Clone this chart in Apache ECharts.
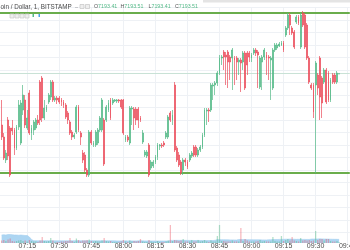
<!DOCTYPE html>
<html><head><meta charset="utf-8">
<script src="https://cdn.jsdelivr.net/npm/echarts@6/dist/echarts.min.js"></script>
<style>html,body{margin:0;padding:0;background:#fff;overflow:hidden}#c{width:350px;height:250px}</style>
</head><body><div id="c"></div>
<script>
// ---- axis categories (1-minute bars) ----
const firstTime = '07:02', lastTime = '09:46';
const categories = [];
(function(){const a=firstTime.split(':'),b=lastTime.split(':');for(let m=+a[0]*60+ +a[1];m<=+b[0]*60+ +b[1];m++){categories.push(String(Math.floor(m/60)).padStart(2,'0')+':'+String(m%60).padStart(2,'0'));}})();
const firstCandle = '07:03';
const tickLabels = ['07:15','07:30','07:45','08:00','08:15','08:30','08:45','09:00','09:15','09:30','09:45'];
const titleText = 'oin / Dollar, 1, BITSTAMP';

// ---- OHLC (USD) ----
const opens = [7173,7168.2,7159,7175,7171.8,7171.8,7171,7163.8,7172.2,7165.8,
7179,7183,7171.8,7185.8,7169.8,7171,7171.8,7175,7190.2,7191.8,
7175.8,7179,7182.2,7184.2,7190.2,7183,7183.8,7183.8,7183,7182.2,
7181,7177.8,7174.2,7170.2,7168.2,7170.2,7180.2,7169.8,7161.8,7161,
7155,7153,7170.2,7165,7165,7165.8,7171,7171,7175,7175,
7179,7183,7181.8,7182.6,7182.6,7183,7183,7183,7167,7168.2,
7165.8,7179.4,7179.4,7179.4,7179.4,7175.8,7166.2,7161,7160.6,7165,
7155.8,7156.6,7158.2,7160.2,7164.6,7165,7165.8,7168.2,7168.2,7177.8,
7175,7189,7163.8,7161,7158.2,7155,7159,7158.2,7159,7160.6,
7164.2,7164.2,7161,7163,7164.2,7169,7178.6,7179,7179,7188.6,
7189,7189.8,7193.8,7199.8,7202.2,7201,7202.2,7200.2,7199.8,7199.8,
7199.8,7198.2,7199,7198.2,7201.8,7201.8,7201.8,7199.8,7201.8,7203,
7202.2,7188.2,7198.2,7200.2,7201,7200.2,7199,7187.8,7203,7203.8,
7204.6,7205,7205.8,7209,7211.8,7217,7211.8,7210.2,7214.2,7216.2,
7204.2,7217.8,7217,7213,7199.8,7189,7189,7189,7193,7199.8,
7191.8,7190.2,7195,7193.8,7183,7193,7193,7190.2,7193.41];
const closes = [7168.2,7159.8,7161.8,7160.6,7153,7170.6,7163.8,7172.2,7181,7181.8,
7185,7173,7175.8,7169.8,7171.8,7174.2,7175,7173.8,7175,7175.8,
7179.8,7180.2,7185,7190.2,7183,7183.8,7183,7182.2,7182.2,7181,
7176.2,7175,7169.8,7168.2,7169,7180.2,7171,7168.2,7159,7155,
7153,7170.2,7165.8,7165.8,7170.2,7171,7175.8,7183,7157.4,7180.2,
7181.8,7175.8,7183,7183,7183,7182.6,7180.2,7169.8,7168.2,7167,
7179.8,7179.8,7175.8,7175,7175,7175,7169.8,7162.2,7162.2,7153,
7158.2,7158.2,7160.2,7165,7165,7164.6,7165,7169.8,7176.2,7175,
7177,7163,7159,7157,7153.8,7159,7158.2,7156.2,7161,7161.8,
7161,7161,7163,7164.2,7169,7179,7179,7178.6,7189,7189,
7189.8,7193.8,7199.8,7200.2,7200.2,7200.2,7198.2,7198.2,7203,7199,
7198.2,7199,7197.8,7201.8,7187.8,7197,7200.2,7201,7203,7201.8,
7201,7199.8,7200.2,7203,7199.8,7199.8,7199.8,7203,7205,7205,
7205.4,7205.8,7203,7211.8,7217,7213,7209.8,7204.2,7216.2,7213.8,
7217,7213,7204.2,7199.8,7190.2,7187.8,7178.2,7197.8,7187.8,7184.2,
7181.8,7195,7182.2,7183,7191,7190.2,7190.2,7193.8,7193.51];
const lows = [7167,7159,7157.8,7159,7152.2,7169,7161,7163,7171,7165,
7177,7171.8,7171,7169,7167,7169,7171,7173,7173,7174.2,
7175,7178.2,7181.4,7183,7182.2,7182.2,7181.4,7181.4,7180.6,7179.8,
7175.4,7173.4,7169,7167,7167.4,7169.4,7170.2,7165,7157.8,7154.2,
7152.2,7152.2,7165,7164.2,7164.2,7165,7170.2,7170.2,7156.6,7174.2,
7178.2,7175,7181,7182.2,7181.8,7181.8,7179.4,7169,7166.2,7166.2,
7165,7173,7171,7173,7171.8,7174.2,7165.4,7160.2,7159.8,7152.2,
7155,7155.8,7157.4,7159,7163,7163.8,7164.2,7167.4,7167.4,7174.2,
7173,7162.2,7158.2,7156.2,7153,7153,7156.6,7155.4,7158.2,7159.8,
7160.2,7160.2,7160.2,7162.2,7163.4,7168.2,7173,7174.2,7178.2,7183,
7185,7188.6,7193,7197,7195,7189,7187.8,7191,7187,7189,
7191,7193,7186.2,7195,7187,7193,7198.2,7198.2,7201,7200.6,
7187.8,7187.4,7187,7199,7193,7191,7183,7187,7202.2,7203,
7204.2,7204.6,7202.2,7208.2,7211,7209,7209,7203.4,7213.4,7213,
7203.4,7212.2,7203.4,7199,7189.4,7187,7175.8,7153.8,7185,7175,
7175.8,7189.4,7181.4,7182.2,7182.2,7189.4,7189.4,7189.4,7193.41];
const highs = [7183,7169.8,7163,7176.2,7172.6,7175,7171.8,7173,7183,7183,
7189,7185,7179,7187,7173,7175,7175.8,7177,7191,7192.6,
7183,7181,7185.8,7191,7191,7184.6,7184.6,7184.6,7183.8,7183,
7181.8,7178.6,7175,7171,7169.8,7181,7181,7170.6,7163,7162.2,
7155.8,7171,7171,7166.6,7171,7171.8,7176.6,7183.8,7175.8,7181,
7183,7183.8,7183.8,7183.4,7183.4,7183.4,7183.4,7183.4,7169,7169,
7180.6,7180.6,7180.2,7180.2,7180.2,7176.6,7171,7163,7163,7165.8,
7159,7159,7161,7165.8,7165.4,7165.8,7166.6,7170.6,7177,7178.6,
7179,7190.2,7164.6,7162.2,7159,7159.8,7159.8,7159,7161.8,7162.6,
7165,7165,7163.8,7165,7169.8,7179.8,7179.8,7179.8,7189.8,7189.8,
7190.6,7194.6,7201,7201,7203,7202.2,7203,7201,7203.8,7200.6,
7200.6,7199.8,7199.8,7202.6,7202.6,7202.6,7202.6,7201.8,7203.8,7203.8,
7203,7200.6,7201,7203.8,7202.2,7201,7200.6,7203.8,7205.8,7205.8,
7206.2,7206.6,7206.6,7212.6,7217.8,7217.8,7212.6,7211,7217,7217,
7217.8,7218.6,7217.8,7213.8,7200.6,7189.8,7189.8,7198.6,7193.8,7200.6,
7192.6,7195.8,7195.8,7194.6,7191.8,7193.8,7193.8,7194.6,7193.51];

// ---- volume (BTC) and its moving average ----
const volumes = [5,6,4,7,9,4,3,4,5,6,
4,5,3,6,4,3,3,2,5,12,
4,3,4,10,5,2,2,2,3,3,
4,4,10,4,2,9,6,3,5,5,
6,7,4,3,4,3,3,5,10,4,
3,4,2,2,2,2,3,6,3,2,
5,3,4,3,4,8,3,2,2,6,
3,2,2,4,2,2,2,3,5,36,
4,6,5,4,5,8,3,3,3,6,
3,3,6,3,4,6,3,2,5,3,
3,14,36,4,4,3,3,3,5,3,
3,3,30,4,8,5,3,3,3,3,
4,6,3,4,3,3,3,12,4,3,
3,14,4,6,8,5,12,5,4,3,
10,5,6,5,6,4,5,24,6,8,
8,5,8,8,4,3,3,4,2];
const volumeMA = [16,16.5,16,17,17,16.5,16,16,15.5,16,
15.5,15,15,12,7,4.6,4.5,4.5,4.4,4.6,
4.7,4.6,4.5,4.6,4.6,4.5,4.4,4.4,4.3,4.3,
4.4,4.5,4.6,4.5,4.4,4.6,4.6,4.5,4.5,4.6,
4.6,4.7,4.7,4.6,4.5,4.5,4.4,4.5,4.7,4.6,
4.5,4.5,4.4,4.3,4.2,4.2,4.2,4.3,4.3,4.2,
4.3,4.2,4.2,4.2,4.3,4.4,4.3,4.2,4.2,4.3,
4.2,4.2,4.1,4.1,4.1,4.1,4.0,4.0,4.1,5.2,
5.2,5.3,5.3,5.3,5.3,5.4,5.3,5.2,5.1,5.1,
5.0,5.0,5.1,5.0,5.0,5.0,4.9,4.9,5.0,4.9,
5.5,6.8,6.7,6.6,6.5,6.4,6.3,6.2,6.2,6.1,
6.0,7.0,6.9,6.9,6.8,6.7,6.6,6.5,6.4,6.3,
6.3,6.3,6.2,6.2,6.1,6.5,6.5,6.9,6.9,6.9,
7.2,7.2,7.4,7.6,7.6,7.8,7.6,7.5,7.3,7.4,
7.3,7.2,7.2,7.1,7.1,7.9,8.0,8.0,8.2,8.3,
8.1,8.0,7.9,7.8,7.6,7.5,7.4,7.3,7.2];

// ---- horizontal support / resistance levels ----
const levelLines = [7217.9, 7153.9];

const UP = '#53b987', DN = '#eb4d5c';
const off = categories.indexOf(firstCandle);
const idx = k => { const i = k - off; return (i >= 0 && i < opens.length) ? i : -1; };
const candleData = categories.map((t,k)=>{const i=idx(k);return i<0?'-':[opens[i],closes[i],lows[i],highs[i]];});
const volData = categories.map((t,k)=>{const i=idx(k);return i<0?'-':{value:volumes[i],itemStyle:{color:closes[i]>=opens[i]?'rgba(83,185,135,0.45)':'rgba(235,77,92,0.4)'}};});
const maData = categories.map((t,k)=>{const i=idx(k);return i<0?'-':volumeMA[i];});
const L = opens.length-1;
const lastPrice = closes[L];
const fmt = v => v.toFixed(2);
const isTick = (i,v) => tickLabels.indexOf(v) >= 0;
const GRID = '#eef1f5';
const FF = 'Liberation Sans, Arial, sans-serif';

const ohlc = [['O',opens[L],94],['H',highs[L],120.5],['L',lows[L],148.5],['C',closes[L],175]];
const graphics = [
  {type:'rect', shape:{x:203,y:0,width:147,height:2.5}, style:{fill:'#e4e4e4'}, z:100},
  {type:'text', x:0.5, y:7, style:{text:titleText, fill:'#4a4a4a', font:'6.3px '+FF, verticalAlign:'middle'}, z:100},
  {type:'text', x:75, y:7, style:{text:'–', fill:'#888', font:'5.5px '+FF, verticalAlign:'middle'}, z:100},
  {type:'rect', shape:{x:80,y:4.5,width:4,height:4}, style:{fill:'#eee',stroke:'#c4c4c4',lineWidth:0.7}, z:100},
  {type:'rect', shape:{x:85.5,y:4.5,width:4,height:4}, style:{fill:'#eee',stroke:'#c4c4c4',lineWidth:0.7}, z:100},
  {type:'rect', shape:{x:10,y:14,width:4,height:4}, style:{fill:'#eee',stroke:'#c8c8c8',lineWidth:0.7}, z:100},
  {type:'rect', shape:{x:15,y:14,width:4,height:4}, style:{fill:'#eee',stroke:'#c8c8c8',lineWidth:0.7}, z:100},
  {type:'rect', shape:{x:20,y:14,width:4,height:4}, style:{fill:'#eee',stroke:'#c8c8c8',lineWidth:0.7}, z:100},
  {type:'rect', shape:{x:25,y:14,width:4,height:4}, style:{fill:'#eee',stroke:'#c8c8c8',lineWidth:0.7}, z:100},
  {type:'rect', shape:{x:32.5,y:14,width:1.5,height:3}, style:{fill:UP}, z:100},
  {type:'rect', shape:{x:38.5,y:14,width:1.5,height:3}, style:{fill:'#4aa3e8'}, z:100}
];
ohlc.forEach(([l,v,x])=>{
  graphics.push({type:'text', x:x, y:7, z:100, style:{text:'{a|'+l+'}{b|'+fmt(v)+'}', verticalAlign:'middle',
    rich:{a:{fill:'#555', font:'5.3px '+FF}, b:{fill:UP, font:'5.3px '+FF}}}});
});

const chart = echarts.init(document.getElementById('c'), null, {renderer:'canvas'});
chart.setOption({
  animation:false,
  backgroundColor:'#ffffff',
  grid:[{left:-0.5, width:350.3, top:7.5, height:237.5, outerBoundsMode:'none', containLabel:false},
        {left:-0.5, width:350.3, top:213, height:30, outerBoundsMode:'none', containLabel:false}],
  xAxis:[
    {type:'category', gridIndex:0, data:categories, boundaryGap:false,
     axisLine:{show:false}, axisTick:{show:false}, axisLabel:{show:false},
     splitLine:{show:true, interval:isTick, lineStyle:{color:GRID, width:1}}},
    {type:'category', gridIndex:1, data:categories, boundaryGap:false,
     axisLine:{show:false}, axisTick:{show:false}, splitLine:{show:false},
     axisLabel:{show:true, interval:isTick, margin:0, fontSize:7, color:'#4e4e4e', fontFamily:FF}}
  ],
  yAxis:[
    {type:'value', gridIndex:0, min:7125, max:7220, interval:5,
     axisLine:{show:false}, axisTick:{show:false}, axisLabel:{show:false},
     splitLine:{show:true, showMinLine:false, lineStyle:{color:GRID, width:1}}},
    {type:'value', gridIndex:1, min:0, max:60,
     axisLine:{show:false}, axisTick:{show:false}, axisLabel:{show:false}, splitLine:{show:false}}
  ],
  series:[
    {type:'line', name:'Volume MA', xAxisIndex:1, yAxisIndex:1, data:maData, symbol:'none',
     lineStyle:{width:0.6, color:'#a3cff0'}, areaStyle:{color:'#acd5f2', opacity:1}, z:1},
    {type:'bar', name:'Volume', xAxisIndex:1, yAxisIndex:1, data:volData, barWidth:'60%', z:2},
    {type:'candlestick', name:'BTCUSD', xAxisIndex:0, yAxisIndex:0, data:candleData, barWidth:'62%',
     itemStyle:{color:UP, color0:DN, borderColor:UP, borderColor0:DN, borderWidth:0.7}, z:5,
     markLine:{silent:true, symbol:'none', label:{show:false}, animation:false,
       data:[
         {yAxis:levelLines[0], lineStyle:{color:'#6aad4c', width:2, type:'solid'}},
         {yAxis:levelLines[1], lineStyle:{color:'#6aad4c', width:2, type:'solid'}},
         {yAxis:lastPrice, lineStyle:{color:'#c9e2d6', width:1, type:'solid'}}
       ]}}
  ],
  graphic:graphics
});
</script>
</body></html>
